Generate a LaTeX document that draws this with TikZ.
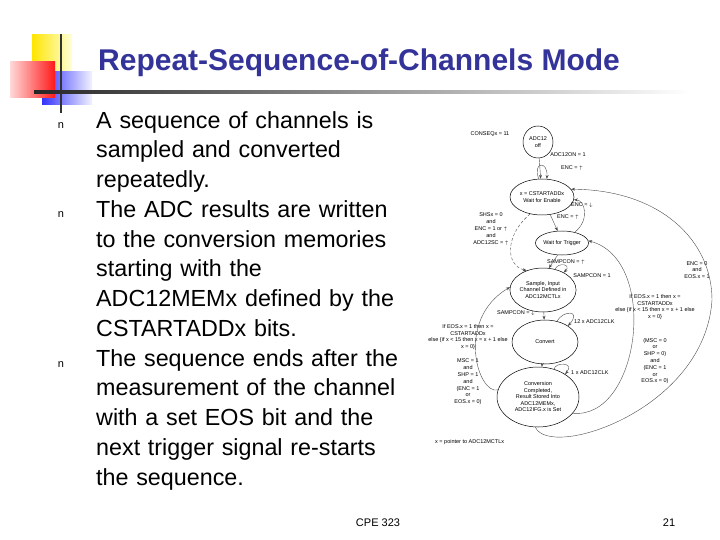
\documentclass[tikz,border=0pt]{standalone}
\usepackage{fontspec}
\setmainfont{Liberation Sans}
\usetikzlibrary{arrows.meta,shapes.geometric}
\definecolor{titleblue}{RGB}{51,51,153}
\begin{document}
\begin{tikzpicture}[x=1pt,y=-1pt,
  st/.style={draw,ellipse,line width=0.5pt,inner sep=0pt,align=center,font=\fontsize{5.5}{6.5}\selectfont},
  lb/.style={font=\fontsize{5.5}{6.8}\selectfont,align=center,inner sep=0pt},
  tr/.style={-{Stealth[length=4pt,width=3pt]},line width=0.4pt,gray!60!black},
  body/.style={font=\fontsize{23.3}{29.75}\selectfont,align=left,anchor=north west,inner sep=0pt,text width=330pt},
  bul/.style={font=\fontsize{11}{11}\selectfont,inner sep=0pt}]
\useasboundingbox (0,0) rectangle (720,540);
% logo
\shade[left color=yellow!80!orange,right color=yellow!15] (32,35) rectangle (72,78);
\shade[left color=blue!80,right color=blue!5] (42,72) rectangle (92,105);
\shade[left color=red!15,right color=red!90] (10,62) rectangle (55,98);
\draw[line width=2pt,black!80] (61,34) -- (61,113);
\shade[left color=black!85,right color=white] (34,91) rectangle (690,94);
\node[font=\bfseries\fontsize{30}{30}\selectfont,text=titleblue,anchor=base west,inner sep=0pt] (title) at (98,71) {Repeat-Sequence-of-Channels Mode};
% bullets
\node[bul] (b1) at (61,126) {n};
\node[bul] (b2) at (61,215) {n};
\node[bul] (b3) at (61,365) {n};
\node[body] (t1) at (96,111) {A sequence of channels is\\sampled and converted\\repeatedly.\\The ADC results are written\\to the conversion memories\\starting with the\\ADC12MEMx defined by the\\CSTARTADDx bits.\\The sequence ends after the\\measurement of the channel\\with a set EOS bit and the\\next trigger signal re-starts\\the sequence.};
\node[font=\fontsize{11}{11}\selectfont,inner sep=0pt] (f1) at (378,523) {CPE 323};
\node[font=\fontsize{11}{11}\selectfont,inner sep=0pt] (f2) at (669,523) {21};
% states
\node[st,minimum width=30pt,minimum height=32pt] (off) at (538,142) {ADC12\\off};
\node[st,minimum width=64pt,minimum height=36pt] (en) at (542,197) {x = CSTARTADDx\\Wait for Enable};
\node[st,minimum width=46pt,minimum height=24pt] (trig) at (562,243) {Wait for Trigger};
\node[st,minimum width=66pt,minimum height=44pt] (samp) at (543,290) {Sample, Input\\Channel Defined in\\ADC12MCTLx};
\node[st,minimum width=66pt,minimum height=44pt] (conv) at (545,342) {Convert};
\node[st,minimum width=82pt,minimum height=60pt] (done) at (538,397) {Conversion\\Completed,\\Result Stored Into\\ADC12MEMx,\\ADC12IFG.x is Set};
% labels
\node[lb] (l1) at (490,134) {CONSEQx = 11};
\node[lb] (l2) at (568,155) {ADC12ON = 1};
\node[lb] (l3) at (572,168) {ENC = $\uparrow$};
\node[lb] (l4) at (582,205) {ENC = $\downarrow$};
\node[lb] (l5) at (568,217) {ENC = $\uparrow$};
\node[lb] (l6) at (491,229) {SHSx = 0\\and\\ENC = 1 or $\uparrow$\\and\\ADC12SC = $\uparrow$};
\node[lb] (l7) at (566,262) {SAMPCON = $\uparrow$};
\node[lb] (l8) at (592,276) {SAMPCON = 1};
\node[lb] (l9) at (697,270) {ENC = 0\\and\\EOS.x = 1};
\node[lb] (l10) at (516,313) {SAMPCON = $\downarrow$};
\node[lb,anchor=west] (l11) at (574,322) {12 x ADC12CLK};
\node[lb] (l12) at (468,337) {If EOS.x = 1 then x =\\CSTARTADDx\\else \{if x < 15 then x = x + 1 else\\x = 0\}};
\node[lb] (l13) at (468,382) {MSC = 1\\and\\SHP = 1\\and\\(ENC = 1\\or\\EOS.x = 0)};
\node[lb] (l14) at (655,307) {If EOS.x = 1 then x =\\CSTARTADDx\\else \{if x < 15 then x = x + 1 else\\x = 0\}};
\node[lb] (l15) at (655,361) {(MSC = 0\\or\\SHP = 0)\\and\\(ENC = 1\\or\\EOS.x = 0)};
\node[lb,anchor=west] (l16) at (571,373) {1 x ADC12CLK};
\node[lb,anchor=west] (l17) at (435,442) {x = pointer to ADC12MCTLx};
% transitions
\draw[tr] (off) -- (en);
\draw[tr] (en.100) .. controls (532,162) and (548,160) .. (en.75);
\draw[tr] (en.-65) -- (trig.110);
\draw[tr] (trig.40) .. controls (590,220) and (585,200) .. (en.-5);
\draw[tr,densely dashed] (en.-125) .. controls (505,235) and (505,265) .. (samp.130);
\draw[tr] (trig.-110) -- (samp.75);
\draw[tr] (samp.60) .. controls (558,262) and (572,264) .. (samp.40);
\draw[tr] (samp) -- (conv);
\draw[tr] (conv.60) .. controls (563,310) and (582,310) .. (conv.35);
\draw[tr] (conv) -- (done);
\draw[tr] (done.60) .. controls (555,362) and (575,362) .. (done.40);
\draw[tr] (done.170) .. controls (478,395) and (455,320) .. (samp.175);
\draw[tr] (done.-25) .. controls (640,420) and (660,260) .. (trig.5);
\draw[tr] (done.-95) .. controls (550,460) and (705,410) .. (712,300) .. controls (712,240) and (660,190) .. (en.15);
\end{tikzpicture}
\end{document}
